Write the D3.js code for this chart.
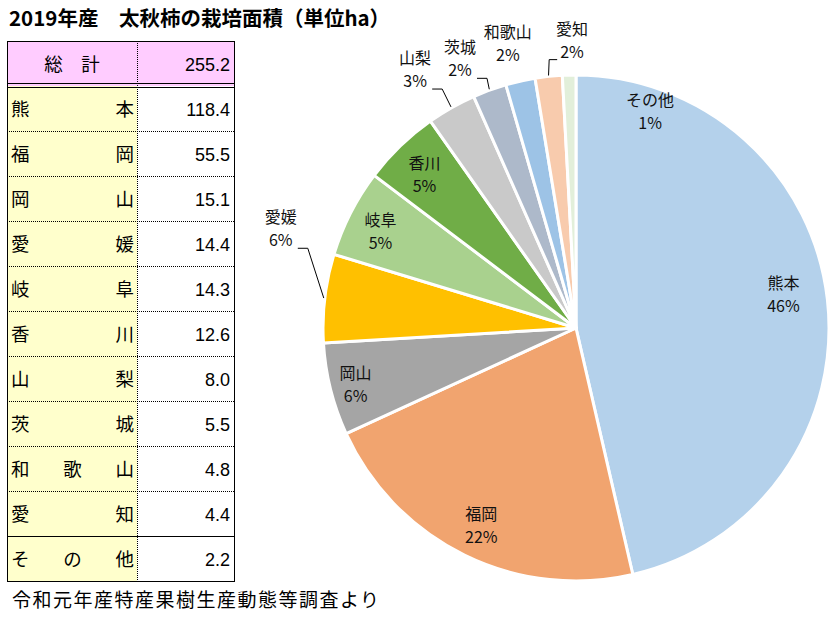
<!DOCTYPE html>
<html><head><meta charset="utf-8">
<script src="https://cdn.jsdelivr.net/npm/d3@7/dist/d3.min.js"></script>
<style>
html,body{margin:0;padding:0;background:#fff;}
svg{display:block;}
</style></head>
<body>
<svg id="chart" width="834" height="617"></svg>
<script>
// ---- data ----
const titleText = "2019年産\u3000太秋柿の栽培面積（単位ha）";
const sourceText = "令和元年産特産果樹生産動態等調査より";
const totalLabel = "総計";
const prefectures = ["熊本","福岡","岡山","愛媛","岐阜","香川","山梨","茨城","和歌山","愛知","その他"];
const areas = [118.4, 55.5, 15.1, 14.4, 14.3, 12.6, 8.0, 5.5, 4.8, 4.4, 2.2];
const percentLabels = ["46%","22%","6%","6%","5%","5%","3%","2%","2%","2%","1%"];
const sliceColors = ["#B4D1EB","#F1A46F","#A5A5A5","#FFC000","#A9D18E","#70AD47","#C9C9C9","#ADB9CA","#9DC3E6","#F8CBAD","#E2EFDA"];
// label layout: [angle in degrees clockwise from top, radius ratio, leader line?]
const labelAngles = [81, 205.5, 255.5, 288.4, 296, 315.2, 328, 336.6, 346.5, 359.2, 19];
const labelRadii  = [0.83, 0.87, 0.90, 1.23, 0.86, 0.85, 1.20, 1.155, 1.154, 1.134, 0.90];
const labelLeaders = [false,false,false,true,false,false,true,true,false,true,false];

const svg = d3.select("#chart");
const JP = "'Noto Sans CJK JP','Noto Sans',sans-serif";

// ---- title ----
svg.append("text").attr("x", 9).attr("y", 26)
  .attr("font-family", JP).attr("font-weight", "bold").attr("font-size", 20.5)
  .attr("fill", "#000").text(titleText);

// ---- table ----
const total = d3.sum(areas);
const rowKeys = [totalLabel].concat(prefectures);
const rowScale = d3.scaleBand().domain(rowKeys).range([41, 581]);
const colX0 = 7, colX1 = 137, colX2 = 234;
const fmt = d3.format(".1f");
const tbl = svg.append("g");

rowKeys.forEach((k, i) => {
  const y = rowScale(k), h = rowScale.bandwidth();
  const isHead = i === 0;
  tbl.append("rect").attr("x", colX0).attr("y", y).attr("width", colX1 - colX0).attr("height", h)
    .attr("fill", isHead ? "#FFCCFF" : "#FFFFCC");
  tbl.append("rect").attr("x", colX1).attr("y", y).attr("width", colX2 - colX1).attr("height", h)
    .attr("fill", isHead ? "#FFCCFF" : "#FFFFFF");
});

// text
rowKeys.forEach((k, i) => {
  const yc = rowScale(k) + rowScale.bandwidth() / 2 + 7;
  const val = i === 0 ? total : areas[i - 1];
  const g = tbl.append("g").attr("font-family", JP).attr("font-size", 18.5).attr("fill", "#000");
  if (i === 0) {
    const chars = Array.from(k);
    g.append("text").attr("x", 72).attr("y", yc).attr("text-anchor", "middle")
      .text(chars.join("\u3000"));
  } else {
    const chars = Array.from(k);
    const left = 11, right = 134;
    chars.forEach((c, j) => {
      const n = chars.length;
      let anchor = "middle", x = left + (right - left) * j / (n - 1);
      if (j === 0) anchor = "start"; else if (j === n - 1) anchor = "end";
      g.append("text").attr("x", x).attr("y", yc).attr("text-anchor", anchor).text(c);
    });
  }
  g.append("text").attr("x", 230).attr("y", yc).attr("text-anchor", "end")
    .attr("font-family", "'Liberation Sans',Arial,sans-serif").attr("font-size", 18)
    .text(fmt(val));
});

// grid lines
rowKeys.forEach((k, i) => {
  if (i < 2) return;
  const y = Math.round(rowScale(k)) + 0.5;
  const solid = (k === "その他");
  tbl.append("line").attr("x1", colX0).attr("x2", colX2).attr("y1", y).attr("y2", y)
    .attr("stroke", "#000").attr("stroke-width", 1)
    .attr("stroke-dasharray", solid ? null : "1,1");
});
// header double line
const hb = rowScale(rowKeys[1]);
[hb - 2.5, hb + 1.5].forEach(y => {
  tbl.append("line").attr("x1", colX0).attr("x2", colX2).attr("y1", y).attr("y2", y)
    .attr("stroke", "#000").attr("stroke-width", 1);
});
// vertical dotted divider
tbl.append("line").attr("x1", colX1 + 0.5).attr("x2", colX1 + 0.5)
  .attr("y1", rowScale.range()[0]).attr("y2", rowScale.range()[1])
  .attr("stroke", "#000").attr("stroke-dasharray", "1,1");
// outer border
tbl.append("rect").attr("x", colX0 + 0.5).attr("y", rowScale.range()[0] + 0.5)
  .attr("width", colX2 - colX0).attr("height", rowScale.range()[1] - rowScale.range()[0])
  .attr("fill", "none").attr("stroke", "#000").attr("stroke-width", 1);

// ---- source ----
svg.append("text").attr("x", 12).attr("y", 607)
  .attr("font-family", JP).attr("font-size", 19).attr("letter-spacing", 1.5)
  .attr("fill", "#000").text(sourceText);

// ---- pie ----
const cx = 576, cy = 328, R = 253;
const pie = d3.pie().sort(null).value(d => d)(areas);
const arc = d3.arc().innerRadius(0).outerRadius(R);
const pg = svg.append("g").attr("transform", `translate(${cx},${cy})`);
pg.selectAll("path").data(pie).join("path")
  .attr("d", arc)
  .attr("fill", (d, i) => sliceColors[i])
  .attr("stroke", "#fff").attr("stroke-width", 3).attr("stroke-linejoin", "round");

const toXY = (deg, r) => {
  const a = deg * Math.PI / 180;
  return [r * Math.sin(a), -r * Math.cos(a)];
};

pie.forEach((d, i) => {
  const [lx, ly] = toXY(labelAngles[i], labelRadii[i] * R);
  const g = pg.append("g").attr("font-family", JP).attr("font-size", 16).attr("fill", "#111")
    .attr("text-anchor", "middle");
  g.append("text").attr("x", lx).attr("y", ly - 12 + 5.5).text(prefectures[i]);
  const pt = g.append("text").attr("x", lx).attr("y", ly + 11 + 5.5).text(percentLabels[i]);
  if (labelLeaders[i]) {
    const mid = (d.startAngle + d.endAngle) / 2 * 180 / Math.PI;
    const [ex, ey] = toXY(mid, R + 1);
    const bb = pt.node().getBBox();
    const bottom = ly + 11 + 5.5 + 2;
    let sx, elbow;
    if (ex > bb.x + bb.width) { sx = bb.x + bb.width + 5; elbow = sx + 10; }
    else { sx = bb.x - 3; elbow = sx - 8; }
    pg.append("path")
      .attr("d", d3.line()([[sx, bottom], [elbow, bottom], [ex, ey]]))
      .attr("fill", "none").attr("stroke", "#000").attr("stroke-width", 1);
  }
});
</script>
</body></html>
